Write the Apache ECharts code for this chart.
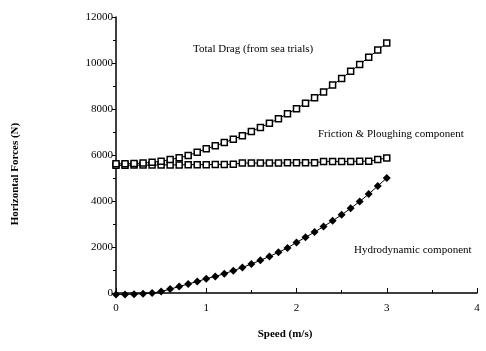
<!DOCTYPE html>
<html>
<head>
<meta charset="utf-8">
<script src="https://cdn.jsdelivr.net/npm/echarts@6/dist/echarts.min.js"></script>
<style>
  html, body { margin: 0; padding: 0; background: #fff; }
  #chart { width: 486px; height: 351px; }
</style>
</head>
<body>
<div id="chart"></div>
<script>
// speed steps (m/s)
const speeds = [0, 0.1, 0.2, 0.3, 0.4, 0.5, 0.6, 0.7, 0.8, 0.9, 1.0, 1.1, 1.2, 1.3, 1.4, 1.5,
  1.6, 1.7, 1.8, 1.9, 2.0, 2.1, 2.2, 2.3, 2.4, 2.5, 2.6, 2.7, 2.8, 2.9, 3.0];
// forces (N)
const totalDrag = [5620, 5620, 5630, 5650, 5680, 5730, 5800, 5880, 5980, 6120, 6270, 6400, 6540, 6690, 6840, 7020,
  7200, 7380, 7580, 7790, 8010, 8250, 8490, 8740, 9040, 9330, 9640, 9940, 10250, 10560, 10870];
const friction = [5550, 5550, 5560, 5560, 5560, 5570, 5570, 5570, 5580, 5580, 5580, 5590, 5590, 5600, 5650, 5650,
  5650, 5650, 5650, 5660, 5660, 5660, 5660, 5720, 5720, 5720, 5720, 5730, 5730, 5800, 5870];
const hydro = [-60, -60, -50, -30, 0, 60, 170, 280, 390, 500, 620, 720, 840, 970, 1110, 1260,
  1420, 1590, 1770, 1960, 2200, 2420, 2650, 2890, 3140, 3400, 3680, 3980, 4300, 4650, 5000];
const xTicks = [0, 1, 2, 3, 4];
const yTicks = [0, 2000, 4000, 6000, 8000, 10000, 12000];

const pairs = ys => speeds.map((s, i) => [s, ys[i]]);
const serif = 'Liberation Serif';

let chart = echarts.init(document.getElementById('chart'));
let option = {
  animation: false,
  grid: { left: 116, right: 9, top: 17, bottom: 58 },
  xAxis: {
    type: 'value',
    min: xTicks[0],
    max: xTicks[xTicks.length - 1],
    interval: 1,
    axisLine: { onZero: false, lineStyle: { color: '#000', width: 1.5 } },
    axisTick: { inside: true, length: 5, lineStyle: { color: '#000' } },
    minorTick: { show: true, splitNumber: 2, length: 3, lineStyle: { color: '#000' } },
    axisLabel: { fontFamily: serif, fontSize: 11, color: '#000', margin: 10 },
    splitLine: { show: false }
  },
  yAxis: {
    type: 'value',
    min: yTicks[0],
    max: yTicks[yTicks.length - 1],
    interval: 2000,
    axisLine: { onZero: false, lineStyle: { color: '#000', width: 1.5 } },
    axisTick: { length: 4, lineStyle: { color: '#000' } },
    minorTick: { show: true, splitNumber: 2, length: 3, lineStyle: { color: '#000' } },
    axisLabel: { fontFamily: serif, fontSize: 11, color: '#000', margin: 3, formatter: v => String(v) },
    splitLine: { show: false }
  },
  graphic: [
    { type: 'text', left: 193, top: 44, style: { text: 'Total Drag (from sea trials)', font: '11px "Liberation Serif"', fill: '#000' } },
    { type: 'text', left: 318, top: 129, style: { text: 'Friction & Ploughing component', font: '11px "Liberation Serif"', fill: '#000' } },
    { type: 'text', left: 354, top: 245, style: { text: 'Hydrodynamic component', font: '11px "Liberation Serif"', fill: '#000' } },
    { type: 'text', x: 285, y: 334, style: { text: 'Speed (m/s)', font: 'bold 11px "Liberation Serif"', fill: '#000', align: 'center', verticalAlign: 'middle' } },
    { type: 'text', x: 15, y: 174, rotation: Math.PI / 2, style: { text: 'Horizontal Forces (N)', font: 'bold 11px "Liberation Serif"', fill: '#000', align: 'center', verticalAlign: 'middle' } }
  ],
  series: [
    {
      name: 'Total Drag',
      type: 'line',
      data: pairs(totalDrag),
      symbol: 'rect',
      symbolSize: 6,
      itemStyle: { color: '#fff', borderColor: '#000', borderWidth: 1.5 },
      lineStyle: { color: '#000', width: 1 },
      z: 3
    },
    {
      name: 'Friction & Ploughing',
      type: 'line',
      data: pairs(friction),
      symbol: 'rect',
      symbolSize: 6,
      itemStyle: { color: '#fff', borderColor: '#000', borderWidth: 1.5 },
      lineStyle: { color: '#000', width: 1 },
      z: 2
    },
    {
      name: 'Hydrodynamic',
      type: 'line',
      data: pairs(hydro),
      clip: false,
      symbol: 'diamond',
      symbolSize: 8,
      itemStyle: { color: '#000', borderColor: '#000', borderWidth: 0 },
      lineStyle: { color: '#000', width: 1 },
      z: 2
    }
  ]
};

chart.setOption(option);
window.addEventListener('resize', function () {
  chart.resize();
});
</script>
</body>
</html>
